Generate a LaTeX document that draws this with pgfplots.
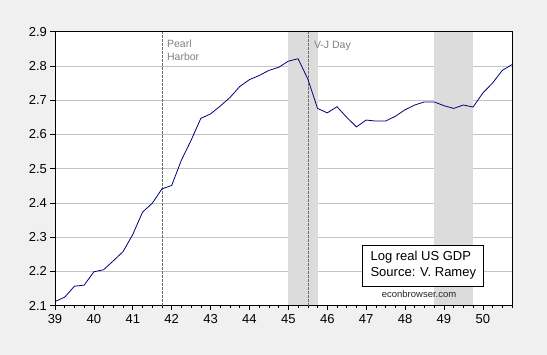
\documentclass[border=0pt]{standalone}
\usepackage{pgfplots}
\pgfplotsset{compat=1.18}
\usepackage{fontspec}
\setmainfont{Liberation Sans}
\definecolor{bgc}{HTML}{F0F0F0}
\definecolor{shadec}{HTML}{DCDCDC}
\definecolor{gdpc}{HTML}{000080}
\definecolor{gridc}{HTML}{C4C4C4}
\definecolor{annc}{HTML}{808080}
\definecolor{dashc}{HTML}{6E6E6E}
\pgfplotstableread{
t y
39.00 2.112
39.25 2.125
39.50 2.157
39.75 2.160
40.00 2.199
40.25 2.205
40.50 2.231
40.75 2.258
41.00 2.308
41.25 2.373
41.50 2.399
41.75 2.441
42.00 2.451
42.25 2.525
42.50 2.583
42.75 2.647
43.00 2.660
43.25 2.683
43.50 2.708
43.75 2.740
44.00 2.760
44.25 2.772
44.50 2.787
44.75 2.796
45.00 2.814
45.25 2.821
45.50 2.762
45.75 2.676
46.00 2.663
46.25 2.681
46.50 2.650
46.75 2.622
47.00 2.642
47.25 2.639
47.50 2.639
47.75 2.653
48.00 2.672
48.25 2.686
48.50 2.695
48.75 2.695
49.00 2.684
49.25 2.676
49.50 2.686
49.75 2.680
50.00 2.721
50.25 2.750
50.50 2.787
50.75 2.804
}\gdp
\begin{document}
\begin{tikzpicture}[x=1pt,y=1pt]
\fill[bgc] (-55,-49.3) rectangle (492,305.7);
\begin{axis}[
  at={(0,0)}, anchor=south west,
  scale only axis, width=457pt, height=274pt,
  xmin=39, xmax=50.75, ymin=2.1, ymax=2.9,
  axis background/.style={fill=white},
  xtick={39,40,41,42,43,44,45,46,47,48,49,50},
  minor xtick={39,39.25,...,50.75},
  ytick={2.1,2.2,2.3,2.4,2.5,2.6,2.7,2.8,2.9},
  yticklabel style={/pgf/number format/.cd,fixed,precision=1,fixed zerofill},
  /pgf/number format/assume math mode=true,
  tick label style={font=\fontsize{13}{15}\selectfont, text=black},
  xticklabel style={yshift=-1pt},
  xtick pos=bottom, ytick pos=left,
  tick align=outside,
  major tick length=4.5pt, minor tick length=2.5pt,
  every tick/.style={black, line width=0.6pt},
  axis line style={black, line width=0.8pt},
  ymajorgrids,
  major grid style={gridc, line width=0.6pt},
  clip=true,
]
\addplot[fill=shadec, draw=none] coordinates {(45,2.1015) (45,2.8985) (45.75,2.8985) (45.75,2.1015)} -- cycle;
\addplot[fill=shadec, draw=none] coordinates {(48.75,2.1015) (48.75,2.8985) (49.75,2.8985) (49.75,2.1015)} -- cycle;
\addplot[dashc, dash pattern=on 2.5pt off 1.5pt, line width=0.6pt] coordinates {(41.75,2.1) (41.75,2.9)};
\addplot[dashc, dash pattern=on 2.5pt off 1.5pt, line width=0.6pt] coordinates {(45.5,2.1) (45.5,2.9)};
\addplot[gdpc, line width=0.8pt] table[x=t,y=y] {\gdp};
\node[anchor=north west, inner sep=0pt, align=left, text=annc, font=\fontsize{10.5}{13.4}\selectfont] at ([xshift=5pt,yshift=-7.6pt]axis cs:41.75,2.9) {Pearl\\Harbor};
\node[anchor=north west, inner sep=0pt, text=annc, font=\fontsize{10.5}{13.4}\selectfont] at ([xshift=6pt,yshift=-9.3pt]axis cs:45.5,2.9) {V-J Day};
\node[draw=black, line width=0.8pt, fill=white, inner xsep=7pt, minimum width=121pt, minimum height=41pt, align=left, font=\fontsize{13}{16}\selectfont] at (axis cs:48.47,2.2174) {Log real US GDP\\Source: V. Ramey};
\node[font=\fontsize{9.5}{11}\selectfont, text=black!85] at (axis cs:48.36,2.134) {econbrowser.com};
\end{axis}
\end{tikzpicture}
\end{document}
